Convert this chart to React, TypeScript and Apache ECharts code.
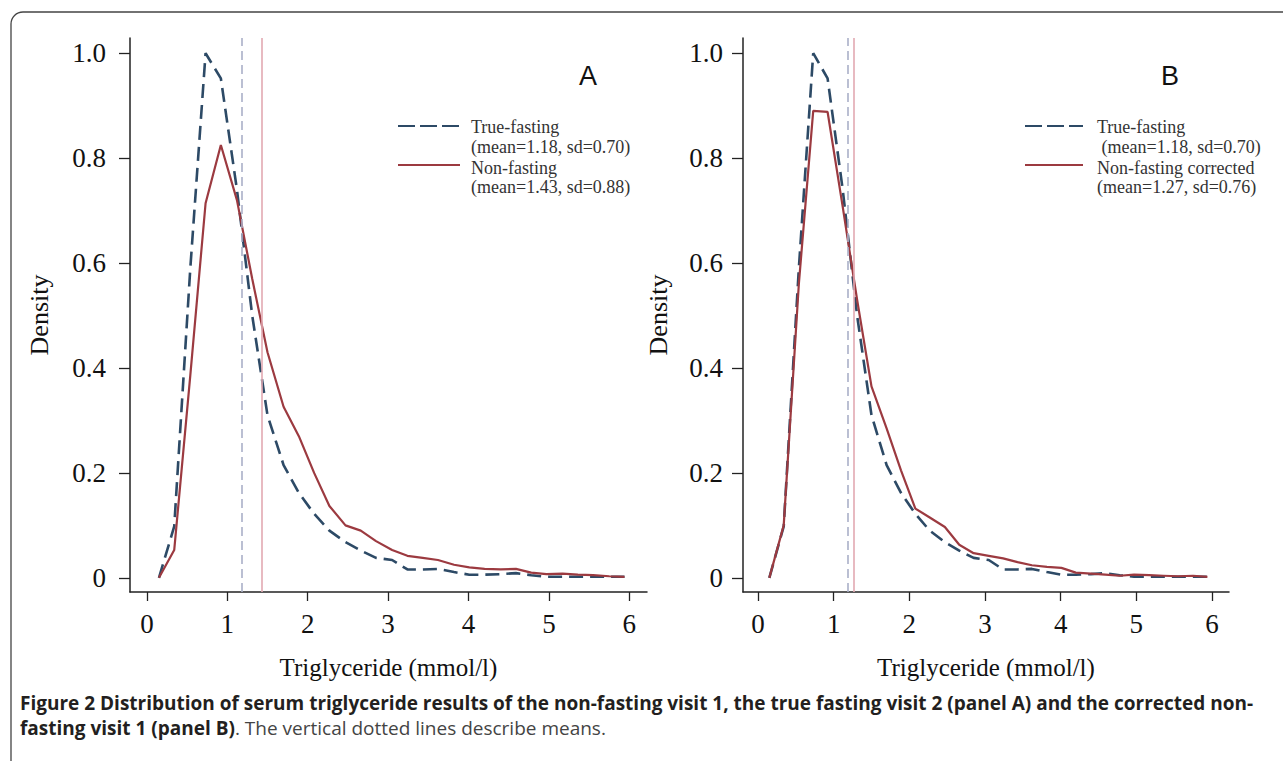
import React, { useEffect, useRef } from "react";
import * as echarts from "echarts";

// Triglyceride bin positions (mmol/l)
const xs = [0.15, 0.34, 0.54, 0.73, 0.92, 1.12, 1.31, 1.5, 1.7, 1.89, 2.08, 2.27, 2.47, 2.66, 2.85, 3.05, 3.24, 3.43, 3.62, 3.82, 4.01, 4.2, 4.4, 4.59, 4.78, 4.97, 5.17, 5.36, 5.55, 5.75, 5.94];

// Density values
const trueFasting = [0.0, 0.098, 0.59, 1.0, 0.952, 0.74, 0.5, 0.31, 0.215, 0.162, 0.122, 0.09, 0.068, 0.052, 0.038, 0.034, 0.016, 0.016, 0.017, 0.011, 0.006, 0.006, 0.007, 0.009, 0.005, 0.002, 0.002, 0.002, 0.002, 0.002, 0.002];
const nonFasting = [0.0, 0.053, 0.386, 0.714, 0.825, 0.72, 0.57, 0.43, 0.326, 0.27, 0.2, 0.137, 0.1, 0.09, 0.07, 0.053, 0.042, 0.038, 0.034, 0.025, 0.02, 0.017, 0.016, 0.017, 0.01, 0.007, 0.008, 0.006, 0.005, 0.003, 0.002];
const nonFastingCorrected = [0.0, 0.1, 0.56, 0.89, 0.888, 0.707, 0.53, 0.365, 0.285, 0.205, 0.132, 0.115, 0.097, 0.063, 0.047, 0.042, 0.037, 0.03, 0.024, 0.021, 0.019, 0.01, 0.008, 0.006, 0.004, 0.006, 0.005, 0.004, 0.003, 0.004, 0.002];

// Means
const meanTrueFasting = 1.18;
const meanNonFasting = 1.43;
const meanCorrected = 1.27;

// Ticks
const xTicks = [0, 1, 2, 3, 4, 5, 6];
const yTicks = [0, 0.2, 0.4, 0.6, 0.8, 1.0];

const legendA = ["True-fasting", "(mean=1.18, sd=0.70)", "Non-fasting", "(mean=1.43, sd=0.88)"];
const legendB = ["True-fasting", " (mean=1.18, sd=0.70)", "Non-fasting corrected", "(mean=1.27, sd=0.76)"];

const SERIF = '"Liberation Serif", "Times New Roman", serif';
const DASH_COLOR = "#2d4a66";
const SOLID_COLOR = "#9c3a40";
const MEAN_DASH = "#aab0c8";
const MEAN_SOLID = "#e2a9b2";

function axisX(gridIndex: number, min: number, max: number) {
  return {
    gridIndex,
    type: "value",
    min,
    max,
    axisLine: { show: true, onZero: false, lineStyle: { color: "#222", width: 1.5 } },
    axisTick: { show: true, length: 9, customValues: xTicks, lineStyle: { color: "#222", width: 1.3 } },
    axisLabel: { customValues: xTicks, fontFamily: SERIF, fontSize: 27, color: "#111", margin: 18 },
    splitLine: { show: false },
    name: "Triglyceride (mmol/l)",
    nameLocation: "middle",
    nameGap: 63,
    nameTextStyle: { fontFamily: SERIF, fontSize: 25, color: "#111" },
  };
}

function axisY(gridIndex: number, margin: number, nameGap: number) {
  return {
    gridIndex,
    type: "value",
    min: -0.027,
    max: 1.029,
    axisLine: { show: true, onZero: false, lineStyle: { color: "#222", width: 1.5 } },
    axisTick: { show: true, length: 11, customValues: yTicks, lineStyle: { color: "#222", width: 1.3 } },
    axisLabel: {
      customValues: yTicks,
      fontFamily: SERIF,
      fontSize: 27,
      color: "#111",
      margin,
      formatter: (v: number) => (v === 0 ? "0" : v.toFixed(1)),
    },
    splitLine: { show: false },
    name: "Density",
    nameLocation: "middle",
    nameGap,
    nameTextStyle: { fontFamily: SERIF, fontSize: 26, color: "#111" },
  };
}

function meanLine(value: number, color: string, dashed: boolean) {
  return {
    symbol: "none",
    silent: true,
    label: { show: false },
    lineStyle: { color, width: 1.6, type: dashed ? [9, 5] : "solid" },
    data: [{ xAxis: value }],
  };
}

function legendGraphics(x0: number, x1: number, tx: number, texts: string[]) {
  const font = { fontFamily: SERIF, fontSize: 18, fill: "#333", verticalAlign: "middle", align: "left" };
  return [
    { type: "line", shape: { x1: x0, y1: 126, x2: x1, y2: 126 }, style: { stroke: DASH_COLOR, lineWidth: 2.2, lineDash: [17, 5] } },
    { type: "text", x: tx, y: 127, style: { ...font, text: texts[0] } },
    { type: "text", x: tx, y: 147, style: { ...font, text: texts[1] } },
    { type: "line", shape: { x1: x0, y1: 165, x2: x1, y2: 165 }, style: { stroke: SOLID_COLOR, lineWidth: 2 } },
    { type: "text", x: tx, y: 168, style: { ...font, text: texts[2] } },
    { type: "text", x: tx, y: 187, style: { ...font, text: texts[3] } },
  ];
}

export default function App() {
  const ref = useRef<HTMLDivElement>(null);
  useEffect(() => {
    if (!ref.current) return;
    const chart = echarts.init(ref.current, undefined, { renderer: "svg" });
    const pts = (vals: number[]) => xs.map((x, i) => [x, vals[i]]);
    const option = {
      animation: false,
      backgroundColor: "#fff",
      grid: [
        { left: 130, top: 38, width: 517, height: 554 },
        { left: 743, top: 38, width: 486, height: 554 },
      ],
      xAxis: [axisX(0, -0.21, 6.22), axisX(1, -0.198, 6.225)],
      yAxis: [axisY(0, 24, 78), axisY(1, 20, 72)],
      series: [
        {
          name: "True-fasting A",
          type: "line",
          xAxisIndex: 0,
          yAxisIndex: 0,
          data: pts(trueFasting),
          symbol: "none",
          lineStyle: { color: DASH_COLOR, width: 2.6, type: [14, 7] },
          markLine: meanLine(meanTrueFasting, MEAN_DASH, true),
          z: 3,
        },
        {
          name: "Non-fasting A",
          type: "line",
          xAxisIndex: 0,
          yAxisIndex: 0,
          data: pts(nonFasting),
          symbol: "none",
          lineStyle: { color: SOLID_COLOR, width: 2.2 },
          markLine: meanLine(meanNonFasting, MEAN_SOLID, false),
          z: 4,
        },
        {
          name: "True-fasting B",
          type: "line",
          xAxisIndex: 1,
          yAxisIndex: 1,
          data: pts(trueFasting),
          symbol: "none",
          lineStyle: { color: DASH_COLOR, width: 2.6, type: [14, 7] },
          markLine: meanLine(meanTrueFasting, MEAN_DASH, true),
          z: 3,
        },
        {
          name: "Non-fasting corrected B",
          type: "line",
          xAxisIndex: 1,
          yAxisIndex: 1,
          data: pts(nonFastingCorrected),
          symbol: "none",
          lineStyle: { color: SOLID_COLOR, width: 2.2 },
          markLine: meanLine(meanCorrected, MEAN_SOLID, false),
          z: 4,
        },
      ],
      graphic: [
        {
          type: "rect",
          shape: { x: 11, y: 12, width: 1400, height: 900, r: 12 },
          style: { fill: "none", stroke: "#444", lineWidth: 1.3 },
          silent: true,
        },
        { type: "text", x: 588, y: 76, style: { text: "A", fontFamily: '"Liberation Sans", Arial, sans-serif', fontSize: 27, fill: "#111", align: "center", verticalAlign: "middle" } },
        { type: "text", x: 1170, y: 76, style: { text: "B", fontFamily: '"Liberation Sans", Arial, sans-serif', fontSize: 27, fill: "#111", align: "center", verticalAlign: "middle" } },
        ...legendGraphics(398, 460, 471, legendA),
        ...legendGraphics(1025, 1083, 1097, legendB),
        {
          type: "text",
          x: 20,
          y: 703,
          style: {
            text: "Figure 2 Distribution of serum triglyceride results of the non-fasting visit 1, the true fasting visit 2 (panel A) and the corrected non-",
            fontFamily: '"Open Sans", sans-serif',
            fontWeight: "bold",
            fontSize: 19,
            fill: "#231f20",
            verticalAlign: "middle",
          },
        },
        {
          type: "text",
          x: 20,
          y: 728,
          style: {
            text: "{b|fasting visit 1 (panel B)}{n|. The vertical dotted lines describe means.}",
            verticalAlign: "middle",
            rich: {
              b: { fontFamily: '"Open Sans", sans-serif', fontWeight: "bold", fontSize: 19, fill: "#231f20" },
              n: { fontFamily: '"Open Sans", sans-serif', fontSize: 19, fill: "#444" },
            },
          },
        },
      ],
    };
    chart.setOption(option as any);
    return () => chart.dispose();
  }, []);
  return <div ref={ref} style={{ position: "fixed", left: 0, top: 0, width: 1283, height: 761 }} />;
}
